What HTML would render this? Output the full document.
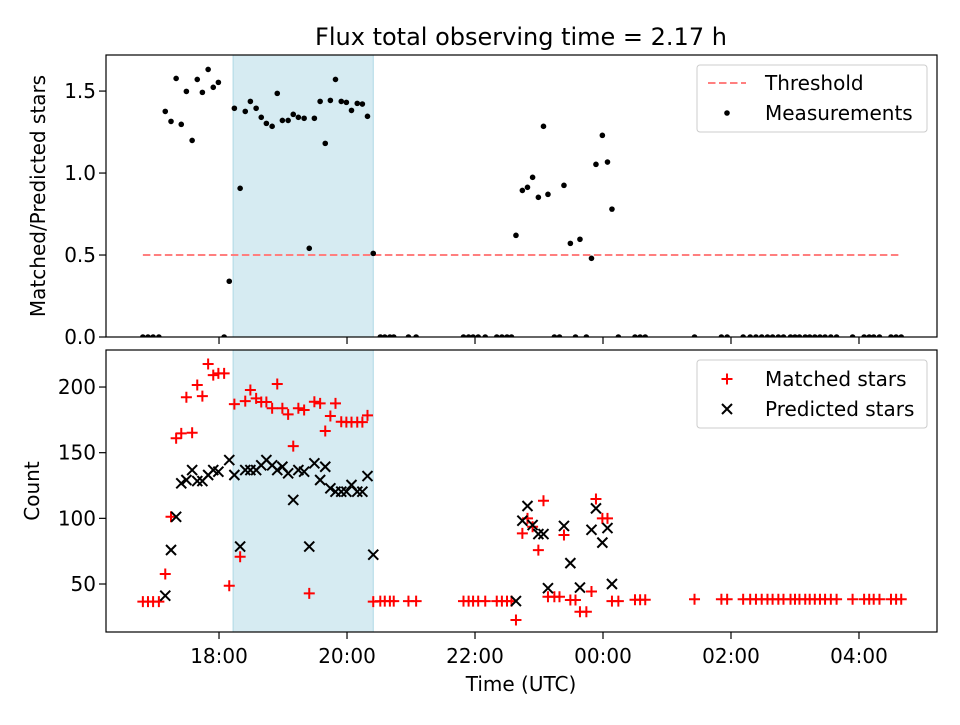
<!DOCTYPE html>
<html><head><meta charset="utf-8"><style>
body{margin:0;background:#fff;}
svg text{font-family:"DejaVu Sans","Liberation Sans",sans-serif;fill:#000;}
</style></head><body>
<svg id="chart" width="960" height="720" viewBox="0 0 960 720" xmlns="http://www.w3.org/2000/svg"></svg>
<script>
const times=[16.81,16.89,16.97,17.06,17.16,17.25,17.33,17.41,17.49,17.58,17.66,17.74,17.83,17.91,17.99,18.08,18.16,18.24,18.33,18.41,18.49,18.58,18.66,18.74,18.83,18.91,18.99,19.08,19.16,19.24,19.33,19.41,19.49,19.58,19.66,19.74,19.82,19.91,19.99,20.07,20.16,20.24,20.32,20.41,
20.52,20.59,20.67,20.73,20.96,21.08,21.82,21.90,21.97,22.05,22.16,22.34,22.42,22.50,22.57,
22.64,22.74,22.82,22.90,22.99,23.07,23.14,23.24,23.32,23.39,23.49,23.57,23.64,23.74,23.82,23.89,23.99,24.07,24.14,24.24,24.50,24.58,24.66,
25.43,25.85,25.94,26.19,26.30,26.39,26.48,26.57,26.65,26.74,26.82,26.93,27.00,27.07,27.16,27.23,27.31,27.39,27.47,27.56,27.65,27.90,28.08,28.16,28.23,28.32,28.50,28.58,28.66];
const ratio=[0,0,0,0,1.376,1.315,1.577,1.297,1.498,1.199,1.571,1.492,1.632,1.523,1.553,0,0.340,1.395,0.907,1.376,1.437,1.395,1.340,1.303,1.285,1.486,1.321,1.321,1.358,1.340,1.334,0.541,1.334,1.437,1.181,1.443,1.571,1.437,1.431,1.382,1.425,1.421,1.346,0.510,
0,0,0,0,0,0,0,0,0,0,0,0,0,0,0,
0.620,0.894,0.913,0.974,0.852,1.285,0.870,0,0,0.925,0.571,0,0.596,0,0.480,1.053,1.230,1.067,0.780,0,0,0,0,
0,0,0,0,0,0,0,0,0,0,0,0,0,0,0,0,0,0,0,0,0,0,0,0,0,0,0,0,0,0];
const matched=[36.6,36.6,36.6,36.6,57.6,101.2,161,164.7,192.2,165.2,201.5,193.1,217.5,209.1,210.4,210.4,48.7,187,70.8,189.3,197.7,191.4,188.6,188.6,183.8,202.3,183.8,179.2,155,183.8,182.5,42.9,188.8,187.6,166.5,177.9,187.6,173.6,173.3,173.3,173.3,173.3,178.4,36.6,
37,37,37,37,37,37,37,37,37,37,37,37,37,37,37,
22.6,88.6,100,93.6,75.8,113.4,40.3,40.3,40.3,87.3,37.8,37.8,28.9,28.9,44.3,114.7,100,100,37,37,38,38,38,
38.4,38.4,38.4,38.4,38.4,38.4,38.4,38.4,38.4,38.4,38.4,38.4,38.4,38.4,38.4,38.4,38.4,38.4,38.4,38.4,38.4,38.4,38.4,38.4,38.4,38.4,38.4,38.4,38.4];
const predicted=[null,null,null,null,41.1,75.9,101.2,126.7,129.2,136.8,128.4,128.4,133,136.8,135.5,null,144.4,133,78.5,136.8,136.8,136.8,140.4,144.4,140.4,136.8,139.3,134.3,114,136.8,135.5,78.5,141.9,129.2,139.3,122.9,120.3,120.3,120.3,125.4,120.3,120.3,132.2,72.3,
null,null,null,null,null,null,null,null,null,null,null,null,null,null,null,
37,98.2,109.4,94.9,88,88,46.8,null,null,94.2,65.9,null,47.3,null,91.3,107.6,81.5,92.6,50,null,null,null,null,
null,null,null,null,null,null,null,null,null,null,null,null,null,null,null,null,null,null,null,null,null,null,null,null,null,null,null,null,null];
const xTickVals=[18,20,22,24,26,28];
const xTickLabels=["18:00","20:00","22:00","00:00","02:00","04:00"];
const topTicks=[0,0.5,1.0,1.5];
const topTickLabels=["0.0","0.5","1.0","1.5"];
const botTicks=[50,100,150,200];
const threshold=[0.5];
const shadeRange=[18.22,20.41];

const NS="http://www.w3.org/2000/svg";
const svg=document.getElementById('chart');
const L=106,R=937,T1=55,B1=337,T2=350,B2=632;
const xMin=16.234,xMax=29.219;
const y1Min=0,y1Max=1.72,y2Min=13.45,y2Max=228.2;
const X=v=>L+(v-xMin)/(xMax-xMin)*(R-L);
const Y1=v=>B1-(v-y1Min)/(y1Max-y1Min)*(B1-T1);
const Y2=v=>B2-(v-y2Min)/(y2Max-y2Min)*(B2-T2);
function mk(tag,attrs,parent){const e=document.createElementNS(NS,tag);for(const k in attrs)e.setAttribute(k,attrs[k]);(parent||svg).appendChild(e);return e;}

const defs=mk('defs',{});
const c1=mk('clipPath',{id:'c1'},defs);mk('rect',{x:L,y:T1,width:R-L,height:B1-T1},c1);
const c2=mk('clipPath',{id:'c2'},defs);mk('rect',{x:L,y:T2,width:R-L,height:B2-T2},c2);

[[T1,B1],[T2,B2]].forEach((p,i)=>{
  const r=mk('rect',{x:X(shadeRange[0]),y:p[0],width:X(shadeRange[1])-X(shadeRange[0]),height:p[1]-p[0],fill:'#add8e6','fill-opacity':0.5,stroke:'#add8e6','stroke-width':1});
  
  
});

const th=mk('line',{x1:X(Math.min(...times)),x2:X(Math.max(...times)),y1:Y1(threshold[0]),y2:Y1(threshold[0]),stroke:'#ff7f7f','stroke-width':2,'stroke-dasharray':'7.5,3.5'});



const gTop=mk('g',{'clip-path':'url(#c1)'});


times.forEach((t,i)=>{
  const c=mk('circle',{cx:X(t),cy:Y1(ratio[i]),r:2.8,fill:'#000'},gTop);
  
  
});

const gM=mk('g',{'clip-path':'url(#c2)'});


const gP=mk('g',{'clip-path':'url(#c2)'});


times.forEach((t,i)=>{
  const x=X(t),y=Y2(matched[i]);
  const p=mk('path',{d:`M${x-5.5},${y}H${x+5.5}M${x},${y-5.5}V${y+5.5}`,stroke:'#f00','stroke-width':2,fill:'none'},gM);
  
  
});
times.forEach((t,i)=>{
  if(predicted[i]===null)return;
  const x=X(t),y=Y2(predicted[i]),s=5;
  const p=mk('path',{d:`M${x-s},${y-s}L${x+s},${y+s}M${x-s},${y+s}L${x+s},${y-s}`,stroke:'#000','stroke-width':2,fill:'none'},gP);
  
  
});

[[T1,B1,'top-axes-frame'],[T2,B2,'bottom-axes-frame']].forEach(p=>{
  const r=mk('rect',{x:L,y:p[0],width:R-L,height:p[1]-p[0],fill:'none',stroke:'#000','stroke-width':1.2});
  
  
});

xTickVals.forEach((v,i)=>{
  const x=X(v);
  mk('line',{x1:x,x2:x,y1:B1,y2:B1+7,stroke:'#000','stroke-width':1.2});
  mk('line',{x1:x,x2:x,y1:B2,y2:B2+7,stroke:'#000','stroke-width':1.2});
  const t=mk('text',{x:x,y:663,'text-anchor':'middle','font-size':20});
  t.textContent=xTickLabels[i];
  
  
});
topTicks.forEach((v,i)=>{
  const y=Y1(v);
  mk('line',{x1:L-7,x2:L,y1:y,y2:y,stroke:'#000','stroke-width':1.2});
  const t=mk('text',{x:L-10,y:y+7,'text-anchor':'end','font-size':20});
  t.textContent=topTickLabels[i];
  
  
});
botTicks.forEach(v=>{
  const y=Y2(v);
  mk('line',{x1:L-7,x2:L,y1:y,y2:y,stroke:'#000','stroke-width':1.2});
  const t=mk('text',{x:L-10,y:y+7,'text-anchor':'end','font-size':20});
  t.textContent=String(v);
  
  
});
</script>
<svg style="position:absolute;left:0;top:0" width="960" height="720">
  <text x="521" y="45" text-anchor="middle" font-size="24">Flux total observing time = 2.17 h</text>
  <text x="521" y="691" text-anchor="middle" font-size="20">Time (UTC)</text>
  <text transform="translate(45,196) rotate(-90)" text-anchor="middle" font-size="20">Matched/Predicted stars</text>
  <text transform="translate(39,491) rotate(-90)" text-anchor="middle" font-size="20">Count</text>
  <g>
    <rect x="697" y="65" width="230" height="67" rx="3" fill="#fff" fill-opacity="0.8" stroke="#ccc"/>
    <line x1="708" x2="746" y1="83" y2="83" stroke="#ff7f7f" stroke-width="2" stroke-dasharray="7.5,3.5"/>
    <text x="765" y="90" font-size="20">Threshold</text>
    <circle cx="727" cy="113" r="2.8" fill="#000"/>
    <text x="765" y="120" font-size="20">Measurements</text>
  </g>
  <g>
    <rect x="697" y="360" width="230" height="68" rx="3" fill="#fff" fill-opacity="0.8" stroke="#ccc"/>
    <path d="M721.5,379H732.5M727,373.5V384.5" stroke="#f00" stroke-width="2"/>
    <text x="765" y="386" font-size="20">Matched stars</text>
    <path d="M722,404L732,414M722,414L732,404" stroke="#000" stroke-width="2"/>
    <text x="765" y="416" font-size="20">Predicted stars</text>
  </g>
</svg>
</body></html>
